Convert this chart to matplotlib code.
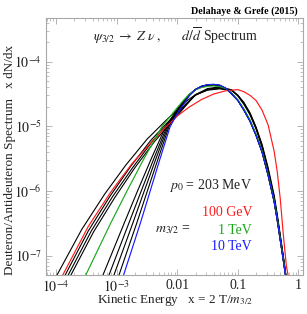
import numpy as np
import matplotlib
matplotlib.use("Agg")
import matplotlib.pyplot as plt
from matplotlib.ticker import FixedLocator, NullFormatter

plt.rcParams['font.family'] = ['Liberation Serif', 'DejaVu Serif']
plt.rcParams['mathtext.fontset'] = 'stix'

# ---- data (log10 of x and of x dN/dx) ----
red_lx = [-3.89, -3.47, -3.10, -2.75, -2.45, -2.2, -2.0, -1.8, -1.6, -1.4, -1.2, -1.0,
          -0.9, -0.8, -0.7, -0.6, -0.5, -0.4, -0.35, -0.3, -0.25, -0.2, -0.17]
red_ly = [-7.30, -6.55, -6.02, -5.58, -5.27, -5.02, -4.84, -4.70, -4.585, -4.50, -4.45, -4.432,
          -4.465, -4.52, -4.60, -4.75, -4.98, -5.39, -5.70, -6.12, -6.67, -7.15, -7.31]

green_lx = [-3.51, -3.10, -2.83, -2.55, -2.25, -2.0, -1.9, -1.8, -1.7, -1.6, -1.5, -1.4, -1.3,
            -1.2, -1.1, -1.0, -0.9, -0.8, -0.7, -0.6, -0.5, -0.4, -0.35, -0.3, -0.25, -0.21]
green_ly = [-7.30, -6.50, -6.00, -5.50, -5.00, -4.71, -4.60, -4.50, -4.435, -4.40, -4.38, -4.375, -4.385,
            -4.415, -4.49, -4.59, -4.73, -4.90, -5.12, -5.38, -5.74, -6.15, -6.43, -6.74, -7.05, -7.31]

blue_lx = [-2.886, -2.61, -2.447, -2.284, -2.12, -2.0, -1.9, -1.8, -1.7, -1.6, -1.5, -1.4, -1.3,
           -1.2, -1.1, -1.0, -0.9, -0.8, -0.7, -0.6, -0.5, -0.4, -0.35, -0.3, -0.25, -0.215]
blue_ly = [-7.30, -6.50, -6.00, -5.50, -5.01, -4.80, -4.665, -4.525, -4.43, -4.38, -4.355, -4.35, -4.362,
           -4.41, -4.50, -4.60, -4.75, -4.92, -5.14, -5.40, -5.76, -6.17, -6.45, -6.76, -7.07, -7.31]

b1_lx = [-3.985, -3.58, -3.20, -2.85, -2.5, -2.2, -2.0, -1.85, -1.7, -1.5, -1.3, -1.1, -1.0,
         -0.9, -0.8, -0.7, -0.6, -0.5, -0.4, -0.35, -0.3, -0.25, -0.205]
b1_ly = [-7.30, -6.60, -6.05, -5.60, -5.20, -4.92, -4.74, -4.61, -4.51, -4.44, -4.42, -4.45, -4.52,
         -4.63, -4.79, -5.01, -5.28, -5.64, -6.07, -6.36, -6.68, -7.00, -7.31]

b2_lx = [-3.85, -3.47, -3.11, -2.77, -2.44, -2.16, -1.98, -1.85, -1.7, -1.5, -1.3, -1.1, -1.0,
         -0.9, -0.8, -0.7, -0.6, -0.5, -0.4, -0.35, -0.3, -0.25, -0.207]
b2_ly = [-7.30, -6.62, -6.08, -5.62, -5.22, -4.94, -4.77, -4.645, -4.52, -4.435, -4.41, -4.445, -4.52,
         -4.64, -4.80, -5.02, -5.30, -5.67, -6.10, -6.39, -6.70, -7.02, -7.31]

b3_lx = [-3.80, -3.42, -3.07, -2.73, -2.41, -2.14, -1.97, -1.85, -1.7, -1.5, -1.3, -1.1, -1.0,
         -0.9, -0.8, -0.7, -0.6, -0.5, -0.4, -0.35, -0.3, -0.25, -0.208]
b3_ly = [-7.30, -6.62, -6.09, -5.63, -5.23, -4.95, -4.78, -4.66, -4.515, -4.425, -4.40, -4.44, -4.525,
         -4.65, -4.81, -5.03, -5.31, -5.68, -6.11, -6.40, -6.71, -7.03, -7.31]

b4_lx = [-3.755, -3.38, -3.03, -2.70, -2.38, -2.12, -1.96, -1.85, -1.7, -1.5, -1.3, -1.1, -1.0,
         -0.9, -0.8, -0.7, -0.6, -0.5, -0.4, -0.35, -0.3, -0.25, -0.209]
b4_ly = [-7.30, -6.63, -6.10, -5.64, -5.24, -4.96, -4.79, -4.67, -4.51, -4.415, -4.39, -4.435, -4.53,
         -4.66, -4.82, -5.04, -5.32, -5.69, -6.12, -6.41, -6.72, -7.04, -7.31]

b5_lx = [-3.226, -2.877, -2.656, -2.429, -2.19, -2.0, -1.9, -1.8, -1.7, -1.6, -1.5, -1.4, -1.3,
         -1.2, -1.1, -1.0, -0.9, -0.8, -0.7, -0.6, -0.5, -0.4, -0.35, -0.3, -0.25, -0.21]
b5_ly = [-7.30, -6.50, -6.00, -5.50, -5.00, -4.735, -4.61, -4.505, -4.43, -4.39, -4.37, -4.365, -4.375,
         -4.415, -4.495, -4.595, -4.74, -4.91, -5.13, -5.39, -5.75, -6.16, -6.44, -6.75, -7.06, -7.31]

b6_lx = [-3.127, -2.80, -2.595, -2.387, -2.17, -2.0, -1.9, -1.8, -1.7, -1.6, -1.5, -1.4, -1.3,
         -1.2, -1.1, -1.0, -0.9, -0.8, -0.7, -0.6, -0.5, -0.4, -0.35, -0.3, -0.25, -0.211]
b6_ly = [-7.30, -6.50, -6.00, -5.50, -5.00, -4.75, -4.625, -4.51, -4.43, -4.385, -4.365, -4.36, -4.37,
         -4.413, -4.497, -4.597, -4.745, -4.915, -5.135, -5.395, -5.755, -6.165, -6.445, -6.755, -7.065, -7.31]

b7_lx = [-3.045, -2.735, -2.545, -2.352, -2.153, -2.0, -1.9, -1.8, -1.7, -1.6, -1.5, -1.4, -1.3,
         -1.2, -1.1, -1.0, -0.9, -0.8, -0.7, -0.6, -0.5, -0.4, -0.35, -0.3, -0.25, -0.212]
b7_ly = [-7.30, -6.50, -6.00, -5.50, -5.00, -4.765, -4.64, -4.515, -4.43, -4.38, -4.36, -4.355, -4.366,
         -4.412, -4.499, -4.599, -4.748, -4.918, -5.138, -5.398, -5.758, -6.168, -6.448, -6.758, -7.068, -7.31]

b8_lx = [-2.962, -2.67, -2.494, -2.316, -2.136, -2.0, -1.9, -1.8, -1.7, -1.6, -1.5, -1.4, -1.3,
         -1.2, -1.1, -1.0, -0.9, -0.8, -0.7, -0.6, -0.5, -0.4, -0.35, -0.3, -0.25, -0.213]
b8_ly = [-7.30, -6.50, -6.00, -5.50, -5.00, -4.78, -4.65, -4.52, -4.43, -4.378, -4.357, -4.352, -4.364,
         -4.411, -4.50, -4.60, -4.75, -4.92, -5.14, -5.40, -5.76, -6.17, -6.45, -6.76, -7.07, -7.31]

black_curves = [(b1_lx, b1_ly), (b2_lx, b2_ly), (b3_lx, b3_ly), (b4_lx, b4_ly),
                (b5_lx, b5_ly), (b6_lx, b6_ly), (b7_lx, b7_ly), (b8_lx, b8_ly)]
colored_curves = [(red_lx, red_ly, '#ff1a1a'), (green_lx, green_ly, '#1aa81a'),
                  (blue_lx, blue_ly, '#1a1aff')]

x_ticks = [1e-4, 1e-3, 1e-2, 1e-1, 1.0]
x_tick_labels = [r'$10^{-4}$', r'$10^{-3}$', '0.01', '0.1', '1']
y_ticks = [1e-7, 1e-6, 1e-5, 1e-4]
y_tick_labels = [r'$10^{-7}$', r'$10^{-6}$', r'$10^{-5}$', r'$10^{-4}$']

W, H = 307, 314
fig = plt.figure(figsize=(W / 100, H / 100), dpi=100)
ax = fig.add_axes([46 / W, 1 - 275 / H, (303 - 46) / W, (275 - 17.7) / H])

for lx, ly in black_curves:
    ax.plot(10 ** np.array(lx), 10 ** np.array(ly), color='black', lw=0.8)
for lx, ly, c in colored_curves:
    ax.plot(10 ** np.array(lx), 10 ** np.array(ly), color=c, lw=0.85)

ax.set_xscale('log')
ax.set_yscale('log')
ax.set_xlim(6.8e-5, 1.19)
ax.set_ylim(5.0e-8, 4.8e-4)

ax.xaxis.set_major_locator(FixedLocator(x_ticks))
ax.set_xticklabels(x_tick_labels)
ax.yaxis.set_major_locator(FixedLocator(y_ticks))
ax.set_yticklabels(y_tick_labels)
minor_x = [m * 10.0 ** e for e in range(-5, 1) for m in range(2, 10)]
minor_y = [m * 10.0 ** e for e in range(-9, -3) for m in range(2, 10)]
ax.xaxis.set_minor_locator(FixedLocator(minor_x))
ax.yaxis.set_minor_locator(FixedLocator(minor_y))
ax.xaxis.set_minor_formatter(NullFormatter())
ax.yaxis.set_minor_formatter(NullFormatter())

frame_col = '#a8a8a8'
for s in ax.spines.values():
    s.set_color(frame_col)
    s.set_linewidth(0.8)
ax.tick_params(which='both', direction='in', top=True, right=True, color=frame_col,
               labelsize=10, labelcolor='#222222', pad=3)
ax.tick_params(which='major', length=4, width=0.6)
ax.tick_params(which='minor', length=2, width=0.5)

def px(x, y):
    return x / W, 1 - y / H

fig.text(*px(10, 160), r'Deuteron/Antideuteron Spectrum   x dN/dx', rotation=90,
         ha='center', va='center', fontsize=9.5, color='#222222')
fig.text(*px(175, 301), r'Kinetic Energy   x = 2 T/$m_{3/2}$', ha='center', va='center',
         fontsize=9.5, color='#222222')
fig.text(*px(298, 11.5), 'Delahaye & Grefe (2015)', ha='right', va='center',
         fontsize=7.2, fontweight='bold')
fig.text(*px(175.5, 36), r'$\psi_{3/2}\;\rightarrow\;Z\;\nu\;,\qquad d/\overline{d}$ Spectrum',
         ha='center', va='center', fontsize=10, color='#222222')
fig.text(*px(252, 185), r'$p_0$ = 203 MeV', ha='right', va='center', fontsize=10, color='#222222')
fig.text(*px(252, 213), '100 GeV', ha='right', va='center', fontsize=10, color='#ff1a1a')
fig.text(*px(252, 230), '1 TeV', ha='right', va='center', fontsize=10, color='#1aa81a')
fig.text(*px(252, 247), '10 TeV', ha='right', va='center', fontsize=10, color='#1a1aff')
fig.text(*px(155, 230), r'$m_{3/2}$ =', ha='left', va='center', fontsize=10, color='#222222')

fig.savefig('out.png', dpi=100)
